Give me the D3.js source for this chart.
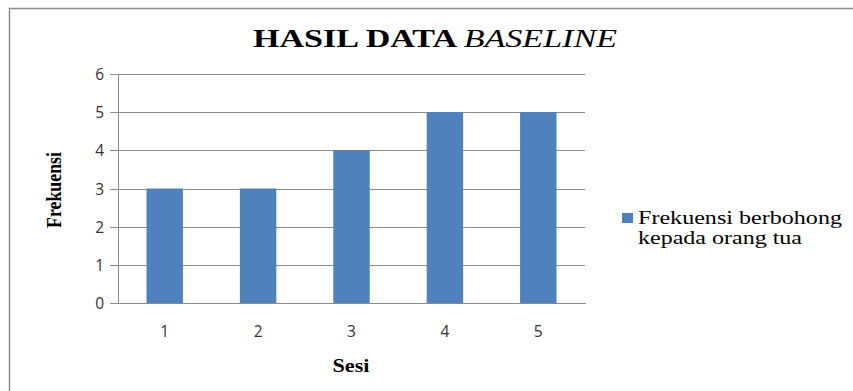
<!DOCTYPE html>
<html>
<head>
<meta charset="utf-8">
<script src="https://cdn.jsdelivr.net/npm/d3@7"></script>
<style>
  html, body { margin: 0; padding: 0; background: #fff; }
  svg { display: block; }
</style>
</head>
<body>
<svg id="chart" width="853" height="391"></svg>
<script>
// Sessions and the counted frequency for each one
const sessions = ["1", "2", "3", "4", "5"];
const frequencies = [3, 3, 4, 5, 5];
const yTicks = [0, 1, 2, 3, 4, 5, 6];
const seriesName = ["Frekuensi berbohong", "kepada orang tua"];

const svg = d3.select("#chart");
const serif = "'Liberation Serif', 'Times New Roman', serif";
const sans = "'Open Sans', 'DejaVu Sans', sans-serif";
const barColor = "#4F81BD";
const gridColor = "#8c8c8c";

// Outer chart frame
svg.append("rect")
  .attr("x", 9.5).attr("y", 8.5)
  .attr("width", 900).attr("height", 500)
  .attr("fill", "#fff")
  .attr("stroke", "#8a8a8a").attr("stroke-width", 1.5);

const plot = { left: 118, right: 585, top: 74, bottom: 303 };

const x = d3.scaleBand()
  .domain(sessions)
  .range([plot.left, plot.right])
  .padding(0);

const y = d3.scaleLinear()
  .domain([0, 6])
  .range([plot.bottom, plot.top]);

// Horizontal gridlines with the tick marks extending left
const yAxis = d3.axisLeft(y)
  .tickValues(yTicks)
  .tickSize(-(plot.right - plot.left))
  .tickPadding(14)
  .tickFormat(d3.format("d"));

const gy = svg.append("g")
  .attr("transform", `translate(${plot.left},0)`)
  .call(yAxis);
gy.select(".domain").remove();
gy.selectAll(".tick line")
  .attr("x1", -8)
  .attr("stroke", gridColor)
  .attr("shape-rendering", "crispEdges");
gy.selectAll(".tick text")
  .attr("font-family", sans)
  .attr("font-size", 15.5)
  .attr("dy", "0.36em")
  .attr("fill", "#333");

// Vertical axis line
svg.append("line")
  .attr("x1", plot.left).attr("x2", plot.left)
  .attr("y1", plot.top).attr("y2", plot.bottom)
  .attr("stroke", gridColor)
  .attr("shape-rendering", "crispEdges");

// Bars
const barW = x.bandwidth() * 0.39;
svg.append("g")
  .selectAll("rect")
  .data(frequencies)
  .join("rect")
  .attr("x", (d, i) => x(sessions[i]) + x.bandwidth() / 2 - barW / 2)
  .attr("y", d => y(d))
  .attr("width", barW)
  .attr("height", d => y(0) - y(d))
  .attr("fill", barColor);

// Category axis
const xAxis = d3.axisBottom(x).tickSize(0).tickPadding(23);
const gx = svg.append("g")
  .attr("transform", `translate(0,${plot.bottom})`)
  .call(xAxis);
gx.select(".domain")
  .attr("stroke", gridColor)
  .attr("shape-rendering", "crispEdges");
gx.selectAll(".tick text")
  .attr("font-family", sans)
  .attr("font-size", 15.5)
  .attr("fill", "#333");

// Title
const title = svg.append("text")
  .attr("x", 253).attr("y", 47)
  .attr("font-family", serif)
  .attr("font-size", 26)
  .attr("textLength", 364)
  .attr("lengthAdjust", "spacingAndGlyphs")
  .attr("fill", "#000");
title.append("tspan").attr("font-weight", "bold").text("HASIL DATA ");
title.append("tspan").attr("font-style", "italic").text("BASELINE");

// Axis titles
svg.append("text")
  .attr("transform", "translate(61,190) rotate(-90)")
  .attr("text-anchor", "middle")
  .attr("font-family", serif)
  .attr("font-weight", "bold")
  .attr("font-size", 21)
  .attr("textLength", 76)
  .attr("lengthAdjust", "spacingAndGlyphs")
  .text("Frekuensi");

svg.append("text")
  .attr("x", 351).attr("y", 372)
  .attr("text-anchor", "middle")
  .attr("font-family", serif)
  .attr("font-weight", "bold")
  .attr("font-size", 18)
  .attr("textLength", 37)
  .attr("lengthAdjust", "spacingAndGlyphs")
  .text("Sesi");

// Legend
const legendWidths = [204, 164];
const legend = svg.append("g").attr("transform", "translate(622,213)");
legend.append("rect")
  .attr("width", 11).attr("height", 10)
  .attr("fill", barColor);
legend.selectAll("text")
  .data(seriesName)
  .join("text")
  .attr("x", 16)
  .attr("y", (d, i) => 11 + i * 20)
  .attr("font-family", serif)
  .attr("font-size", 18)
  .attr("textLength", (d, i) => legendWidths[i])
  .attr("lengthAdjust", "spacingAndGlyphs")
  .attr("fill", "#000")
  .text(d => d);
</script>
</body>
</html>
